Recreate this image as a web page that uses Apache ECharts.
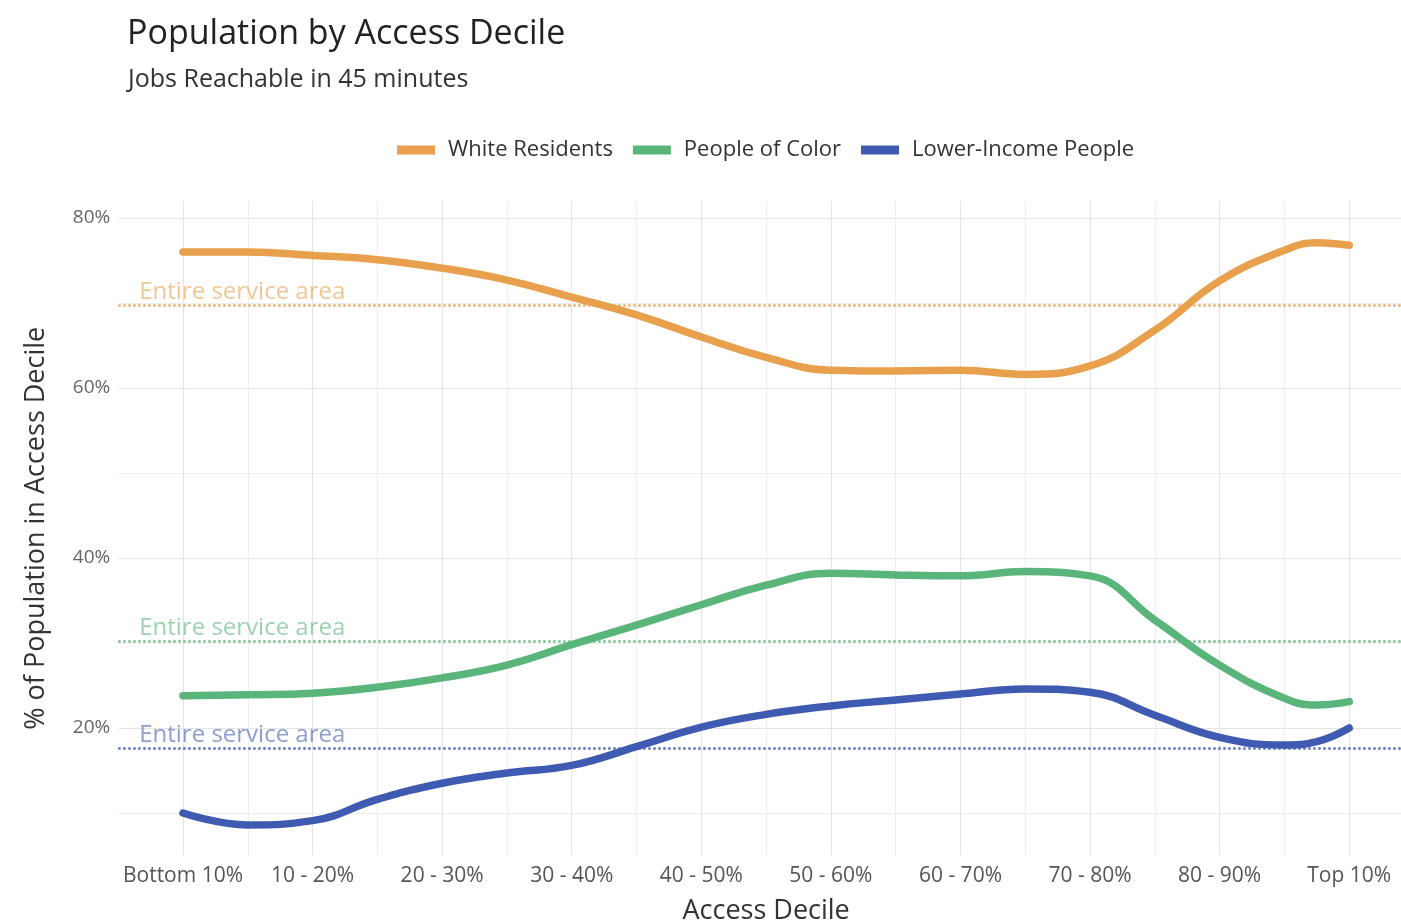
<!DOCTYPE html>
<html>
<head>
<meta charset="utf-8">
<title>Population by Access Decile</title>
<script src="https://cdn.jsdelivr.net/npm/echarts@6/dist/echarts.min.js"></script>
<style>
  html, body { margin: 0; padding: 0; background: #ffffff; }
  #chart { width: 1401px; height: 920px; }
</style>
</head>
<body>
<div id="chart"></div>
<script>
// Decile categories, placed at positions 1..10 on the x scale
const deciles = ['Bottom 10%', '10 - 20%', '20 - 30%', '30 - 40%', '40 - 50%',
                 '50 - 60%', '60 - 70%', '70 - 80%', '80 - 90%', 'Top 10%'];

// Positions along the decile scale at which the smoothed shares are sampled
const xPos = [1, 1.5, 2, 2.5, 3, 3.5, 4, 4.5, 5, 5.5, 6, 6.5, 7, 7.5, 8, 8.5, 9, 9.5, 9.75, 10];

// Share of each group's population falling in each access decile (%)
const whiteResidents = [76.0, 76.0, 75.6, 75.1, 74.1, 72.7, 70.7, 68.6, 66.0, 63.6,
                        62.1, 62.0, 62.1, 61.6, 62.6, 66.8, 72.6, 76.2, 77.1, 76.8];
const peopleOfColor  = [23.8, 23.9, 24.1, 24.8, 25.9, 27.4, 29.8, 32.1, 34.5, 36.8,
                        38.2, 38.0, 37.9, 38.4, 37.9, 32.7, 27.4, 23.5, 22.7, 23.1];
const lowerIncome    = [10.0, 8.6, 9.1, 11.6, 13.5, 14.7, 15.6, 17.8, 20.1, 21.6,
                        22.6, 23.3, 24.0, 24.6, 24.2, 21.5, 18.9, 18.0, 18.4, 20.0];

// Share of each group across the entire service area (%)
const serviceAreaWhite = 69.7;
const serviceAreaPoc = 30.2;
const serviceAreaLow = 17.6;

// Y tick labels shown on the axis
const yTickLabels = [20, 40, 60, 80];

const seriesNames = ['White Residents', 'People of Color', 'Lower-Income People'];
const lineColors = ['#E8A04C', '#59B57A', '#3F5BB1'];
const refColors  = ['rgba(232,160,76,0.85)', 'rgba(89,181,122,0.85)', 'rgba(63,91,177,0.85)'];
const refText    = ['rgba(232,160,76,0.6)', 'rgba(89,181,122,0.6)', 'rgba(63,91,177,0.6)'];

const FONT = '"Open Sans", Lato, sans-serif';
const MAJOR = '#e4e4e4';
const MINOR = '#efefef';
const NONE = 'rgba(0,0,0,0)';

// Vertical grid: ticks every half decile from 0.5 to 10.5; integers are majors
const xGridColors = [];
for (let i = 0; i <= 20; i++) {
  xGridColors.push(i === 0 || i === 20 ? NONE : (i % 2 === 1 ? MAJOR : MINOR));
}

function pairs(values) {
  return xPos.map((x, i) => [x, values[i]]);
}

function refLine(value, idx) {
  return {
    silent: true,
    symbol: 'none',
    animation: false,
    lineStyle: { type: 'dotted', width: 2.5, color: refColors[idx] },
    label: {
      show: true,
      position: 'insideStartTop',
      formatter: 'Entire service area',
      color: refText[idx],
      fontFamily: FONT,
      fontSize: 24,
      distance: [21, 1]
    },
    data: [{ yAxis: value }]
  };
}

const allSeries = [whiteResidents, peopleOfColor, lowerIncome];
const refValues = [serviceAreaWhite, serviceAreaPoc, serviceAreaLow];

const chart = echarts.init(document.getElementById('chart'), null, { renderer: 'canvas' });

chart.setOption({
  backgroundColor: '#ffffff',
  animation: false,
  title: [
    {
      text: 'Population by Access Decile',
      left: 122, top: 12,
      textStyle: { fontFamily: FONT, fontSize: 34, fontWeight: 'normal', color: '#222' }
    },
    {
      text: 'Jobs Reachable in 45 minutes',
      left: 123, top: 62,
      textStyle: { fontFamily: FONT, fontSize: 25, fontWeight: 'normal', color: '#333' }
    }
  ],
  legend: {
    top: 134,
    left: 392,
    itemWidth: 38,
    itemHeight: 9,
    itemGap: 20,
    icon: 'rect',
    textStyle: { fontFamily: FONT, fontSize: 22, color: '#333', padding: [0, 0, 0, 8] },
    data: seriesNames
  },
  grid: {
    left: 118.2, right: -13, top: 201, bottom: 64.5,
    containLabel: false, outerBoundsMode: 'none'
  },
  xAxis: {
    type: 'value',
    min: 0.5,
    max: 10.5,
    interval: 0.5,
    name: 'Access Decile',
    nameLocation: 'middle',
    nameGap: 42,
    nameTextStyle: { fontFamily: FONT, fontSize: 27, color: '#333' },
    axisLine: { show: false },
    axisTick: { show: false },
    axisLabel: {
      fontFamily: FONT, fontSize: 21, color: '#555', margin: 10,
      showMinLabel: true, showMaxLabel: true, hideOverlap: false,
      formatter: v => {
        const r = Math.round(v);
        return Math.abs(v - r) < 1e-6 && r >= 1 && r <= 10 ? deciles[r - 1] : '';
      }
    },
    splitLine: { show: true, lineStyle: { color: xGridColors, width: 1.2 } }
  },
  yAxis: {
    type: 'value',
    min: 5,
    max: 82,
    interval: 5,
    name: '% of Population in Access Decile',
    nameLocation: 'middle',
    nameGap: 68,
    nameTextStyle: { fontFamily: FONT, fontSize: 27, color: '#333' },
    axisLine: { show: false },
    axisTick: { show: false },
    axisLabel: {
      fontFamily: FONT, fontSize: 19, color: '#666', margin: 8,
      formatter: v => (yTickLabels.indexOf(v) >= 0 ? v + '%' : '')
    },
    splitLine: { show: true, lineStyle: { color: [NONE, MINOR, NONE, MAJOR], width: 1.2 } }
  },
  series: allSeries.map((vals, i) => ({
    name: seriesNames[i],
    type: 'line',
    data: pairs(vals),
    smooth: 0.45,
    showSymbol: false,
    symbol: 'none',
    itemStyle: { color: lineColors[i] },
    lineStyle: { width: 7.5, color: lineColors[i], cap: 'round', join: 'round' },
    z: 3,
    markLine: refLine(refValues[i], i)
  }))
});
</script>
</body>
</html>
